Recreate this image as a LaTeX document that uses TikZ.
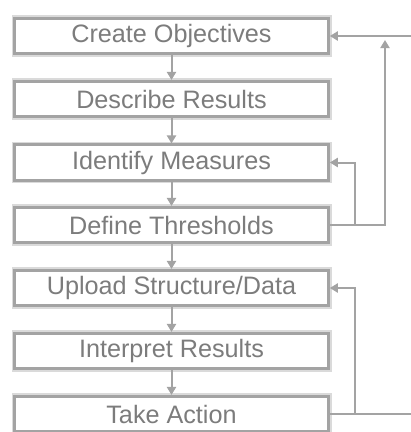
\documentclass[tikz,border=0pt]{standalone}
\usepackage{fontspec}
\setmainfont{Liberation Sans}
\usetikzlibrary{arrows.meta}
\definecolor{linegray}{HTML}{A3A3A3}
\definecolor{textgray}{HTML}{7C7C7C}
\definecolor{halo}{HTML}{DADADA}
\begin{document}
\begin{tikzpicture}[x=1pt,y=-1pt,
  stepbox/.style={draw=linegray, line width=2.6pt, fill=white, minimum width=314pt, minimum height=35.5pt,
    inner sep=0pt, text=textgray, font=\fontsize{25.2}{29}\selectfont,
    preaction={draw=halo, line width=6pt}},
  conn/.style={draw=linegray, line width=2pt, -{Triangle[length=8pt,width=9pt]}},
  plain/.style={draw=linegray, line width=2pt}]
\useasboundingbox (0,0) rectangle (411,432);
\node[stepbox] (b1) at (171.5,36) {Create Objectives};
\node[stepbox] (b2) at (171.5,99) {Describe Results};
\node[stepbox] (b3) at (171.5,162.5) {Identify Measures};
\node[stepbox] (b4) at (171.5,225) {Define Thresholds};
\node[stepbox] (b5) at (171.5,288) {Upload Structure/Data};
\node[stepbox] (b6) at (171.5,351) {Interpret Results};
\node[stepbox] (b7) at (171.5,414) {Take Action};
\foreach \a/\b in {b1/b2,b2/b3,b3/b4,b4/b5,b5/b6,b6/b7}
  \draw[conn] (\a.south) -- (\b.north);
% feedback from Define Thresholds
\coordinate (t1) at (385,40);
\coordinate (e1) at (411,36);
\draw[conn] (b4.east) -- (385,225) -- (t1);
\draw[conn] (e1) -- (b1.east);
\draw[conn] (355,225) |- (b3.east);
% feedback from Take Action
\coordinate (e2) at (411,414);
\draw[plain] (b7.east) -- (e2);
\draw[conn] (355,414) |- (b5.east);
\end{tikzpicture}
\end{document}
